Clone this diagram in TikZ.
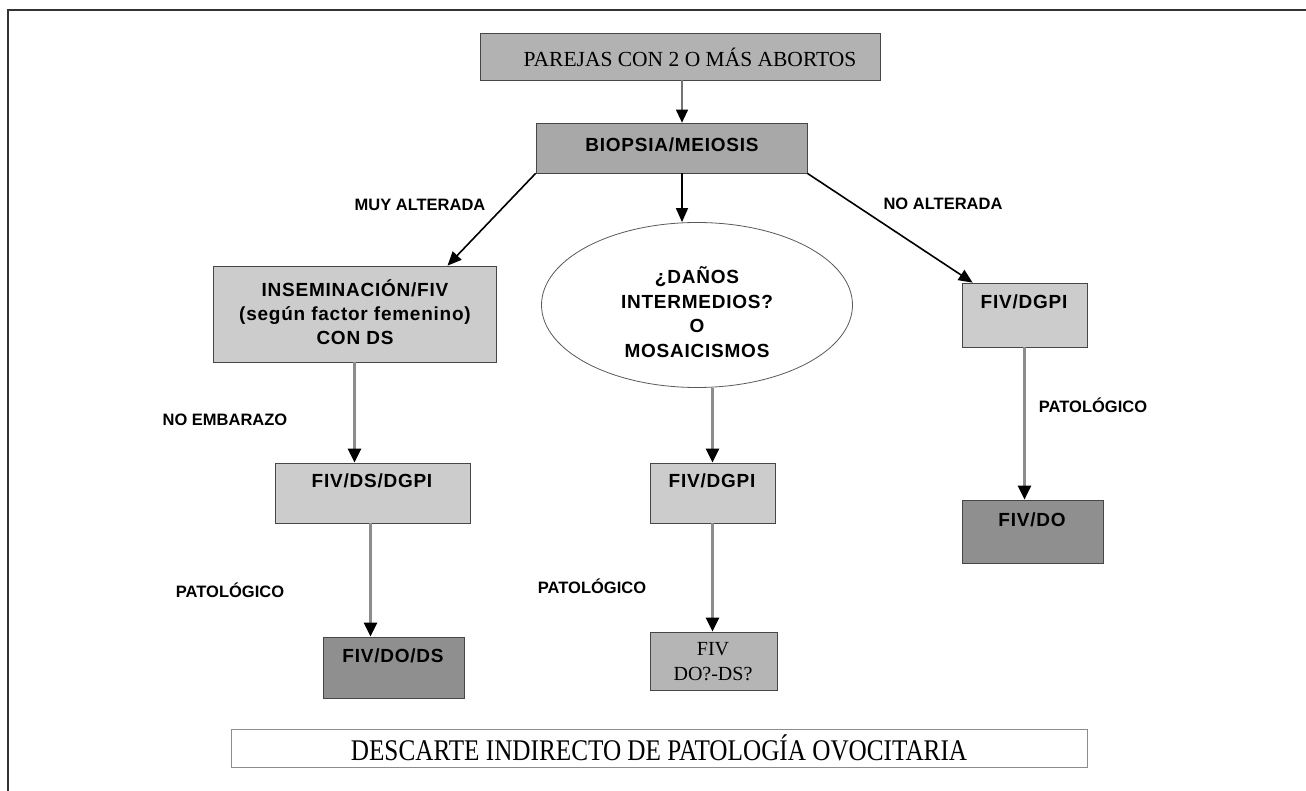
\documentclass[tikz,border=0pt]{standalone}
\usepackage{fontspec}
\setmainfont{Liberation Serif}
\setsansfont{Liberation Sans}
\newfontfamily\boxfont[LetterSpace=4]{Liberation Sans}
\usetikzlibrary{arrows.meta,shapes.geometric}
\tikzset{
  box/.style={draw=gray!55!black, line width=0.7pt, inner sep=0pt},
  lightfill/.style={fill=black!20},
  midfill/.style={fill=black!30},
  darkfill/.style={fill=black!44},
  boxtxt/.style={font=\boxfont\bfseries\fontsize{19}{24}\selectfont, align=center, inner sep=0pt},
  seriftxt/.style={font=\rmfamily\fontsize{20}{25}\selectfont, align=center, inner sep=0pt},
  lbl/.style={font=\sffamily\bfseries\fontsize{16.5}{19}\selectfont, inner sep=0pt},
  vline/.style={draw=black!45, line width=2.6pt, -{Triangle[length=14pt,width=13pt,color=black]}},
  dline/.style={draw=black, line width=1.6pt, -{Triangle[length=14pt,width=12pt]}},
  tline/.style={draw=black!55, line width=1.2pt, -{Triangle[length=13pt,width=12pt,color=black]}}
}
\begin{document}
\begin{tikzpicture}[x=1pt,y=-1pt]
\useasboundingbox (0,0) rectangle (1306,791);
\draw[line width=2pt, draw=black!80] (8,791) -- (8,10) -- (1306,10);

% boxes
\node[box, midfill, minimum width=400pt, minimum height=47pt] (parejas) at (680,56.5) {};
\node[seriftxt, font=\rmfamily\fontsize{21.5}{25}\selectfont] (parejasT) at (690,57) {PAREJAS CON 2 O MÁS ABORTOS};

\node[box, fill=black!34, minimum width=271pt, minimum height=50pt] (biopsia) at (671.5,148) {};
\node[boxtxt] (biopsiaT) at (672,145) {BIOPSIA/MEIOSIS};

\node[box, lightfill, minimum width=283pt, minimum height=96pt] (insem) at (354.5,314) {};
\node[boxtxt] (insemT) at (355,312) {INSEMINACIÓN/FIV\\(según factor femenino)\\CON DS};

\node[draw=black!65, line width=0.8pt, fill=white, ellipse, minimum width=311pt, minimum height=165pt, inner sep=0pt] (ell) at (697,305) {};
\node[boxtxt, font=\boxfont\bfseries\fontsize{19}{24.7}\selectfont] (ellT) at (697,312) {¿DAÑOS\\INTERMEDIOS?\\O\\MOSAICISMOS};

\node[box, lightfill, minimum width=195pt, minimum height=60pt] (fdsdgpi) at (372.5,493) {};
\node[boxtxt] (fdsdgpiT) at (372,481) {FIV/DS/DGPI};

\node[box, darkfill, minimum width=141pt, minimum height=61pt] (fdods) at (393.5,667.5) {};
\node[boxtxt] (fdodsT) at (393,656) {FIV/DO/DS};

\node[box, lightfill, minimum width=125pt, minimum height=60pt] (mdgpi) at (712.5,493) {};
\node[boxtxt] (mdgpiT) at (712,481) {FIV/DGPI};

\node[box, fill=black!29, minimum width=127pt, minimum height=58pt] (fdoq) at (713.5,661) {};
\node[seriftxt] (fdoqT) at (713,662) {FIV\\DO?-DS?};

\node[box, lightfill, minimum width=125pt, minimum height=64pt] (rdgpi) at (1024.5,315) {};
\node[boxtxt] (rdgpiT) at (1024,302) {FIV/DGPI};

\node[box, darkfill, minimum width=141pt, minimum height=63pt] (fdo) at (1032.5,531.5) {};
\node[boxtxt] (fdoT) at (1032,520) {FIV/DO};

\node[draw=black!45, line width=0.8pt, fill=white, minimum width=856pt, minimum height=38pt, inner sep=0pt,
      font=\rmfamily\fontsize{30}{32}\selectfont] (bottom) at (659,748)
      {\scalebox{0.84}[1]{DESCARTE INDIRECTO DE PATOLOGÍA OVOCITARIA}};

% labels
\node[lbl] (muy) at (420,205) {MUY ALTERADA};
\node[lbl] (noalt) at (943,204) {NO ALTERADA};
\node[lbl] (noemb) at (225,420) {NO EMBARAZO};
\node[lbl] (pat1) at (230,590) {PATOLÓGICO};
\node[lbl] (pat2) at (592,586) {PATOLÓGICO};
\node[lbl] (pat3) at (1093,405) {PATOLÓGICO};

% connectors
\draw[tline] ([xshift=2pt]parejas.south) -- ([xshift=2pt]parejas.south |- biopsia.north);
\draw[dline] (biopsia.south west) -- ([xshift=93pt]insem.north);
\draw[dline] ([xshift=2pt]parejas.south |- biopsia.south) -- ([xshift=2pt]parejas.south |- ell.north);
\draw[dline] (biopsia.south east) -- ([xshift=11pt]rdgpi.north west);
\draw[vline] (insem.south) -- (insem.south |- fdsdgpi.north);
\draw[vline] ([xshift=-2pt]fdsdgpi.south) -- ([xshift=-2pt]fdsdgpi.south |- fdods.north);
\draw[vline] (mdgpi.north |- ell.south) -- (mdgpi.north);
\draw[vline] (mdgpi.south) -- (mdgpi.south |- fdoq.north);
\draw[vline] (rdgpi.south) -- (rdgpi.south |- fdo.north);
\end{tikzpicture}
\end{document}
